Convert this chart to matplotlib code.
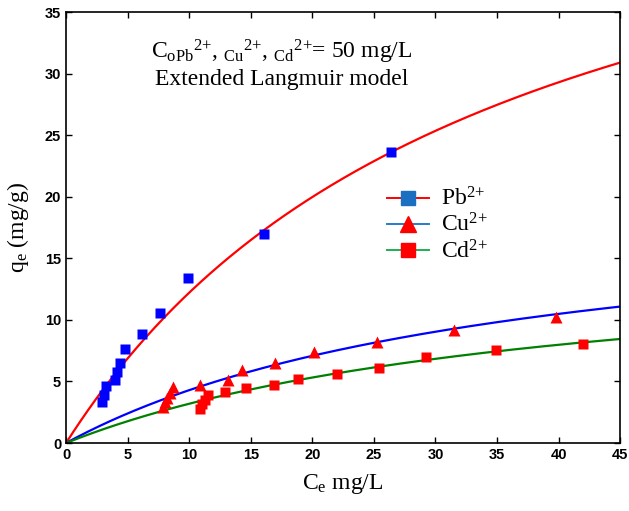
import matplotlib
matplotlib.use("Agg")
import matplotlib.pyplot as plt
from matplotlib.lines import Line2D
import numpy as np

plt.rcParams['mathtext.fontset'] = 'custom'
plt.rcParams['mathtext.rm'] = 'Liberation Serif'
plt.rcParams['mathtext.it'] = 'Liberation Serif'

pb_ce = [2.92, 3.05, 3.25, 3.98, 4.14, 4.39, 4.79, 6.17, 7.64, 9.91, 16.08, 26.4]
pb_qe = [3.33, 3.9, 4.63, 5.12, 5.77, 6.5, 7.64, 8.85, 10.56, 13.4, 16.98, 23.64]

cu_ce = [7.88, 8.04, 8.2, 8.45, 8.69, 10.89, 13.16, 14.3, 16.98, 20.15, 25.26, 31.52, 39.8]
cu_qe = [2.92, 3.33, 3.65, 4.06, 4.55, 4.71, 5.12, 5.93, 6.5, 7.39, 8.2, 9.18, 10.24]

cd_ce = [10.89, 11.05, 11.29, 11.54, 12.92, 14.62, 16.9, 18.85, 22.0, 25.4, 29.24, 34.93, 42.0]
cd_qe = [2.76, 3.17, 3.49, 3.9, 4.14, 4.47, 4.71, 5.2, 5.6, 6.09, 6.99, 7.55, 8.04]

# Langmuir parameters (qm, K) estimated from the drawn curves
pb_fit = (54.9, 0.0286)
cu_fit = (20.2, 0.0270)
cd_fit = (15.96, 0.025)

labels = ['Pb$^{2{+}}$', 'Cu$^{2{+}}$', 'Cd$^{2{+}}$']

fig = plt.figure(figsize=(6.29, 5.11), dpi=100)
ax = fig.add_axes([0.105, 0.133, 0.881, 0.8435])

c = np.linspace(0, 45, 300)
for (qm, k), col in [(pb_fit, '#ff0000'), (cu_fit, '#0000ff'), (cd_fit, '#008000')]:
    ax.plot(c, qm * k * c / (1 + k * c), color=col, lw=1.6, zorder=2)

ax.plot(pb_ce, pb_qe, 's', color='#0000ff', ms=7, mec='none', zorder=3)
ax.plot(cu_ce, cu_qe, '^', color='#ff0000', ms=8, mec='none', zorder=3)
ax.plot(cd_ce, cd_qe, 's', color='#ff0000', ms=7, mec='none', zorder=3)

ax.set_xlim(0, 45)
ax.set_ylim(0, 35)
ax.set_xticks(range(0, 46, 5))
ax.set_yticks(range(0, 36, 5))
ax.tick_params(direction='in', top=True, right=True, length=4, width=1)
for lab in ax.get_xticklabels() + ax.get_yticklabels():
    lab.set_fontfamily('Liberation Sans')
    lab.set_fontweight('bold')
    lab.set_fontsize(10.5)
for sp in ax.spines.values():
    sp.set_linewidth(1.2)

ax.set_xlabel('C$_\\mathrm{e}$ mg/L', fontsize=17, family='Liberation Serif', labelpad=7)
ax.set_ylabel('q$_\\mathrm{e}$ (mg/g)', fontsize=17, family='Liberation Serif', labelpad=10)

ax.text(17.5, 31.8, 'C$_\\mathrm{oPb}$$^{2{+}}$, $_\\mathrm{Cu}$$^{2{+}}$, '
        '$_\\mathrm{Cd}$$^{2{+}}$= 50 mg/L', ha='center', va='center',
        fontsize=17, family='Liberation Serif')
ax.text(17.5, 29.5, 'Extended Langmuir model', ha='center', va='center',
        fontsize=17, family='Liberation Serif')

handles = [
    Line2D([], [], color='#ff0000', marker='s', mfc='#1a6fc0', mec='#1a6fc0', ms=10, lw=1.4),
    Line2D([], [], color='#2a7ad0', marker='^', mfc='#ff0000', mec='#ff0000', ms=11, lw=1.4),
    Line2D([], [], color='#20b050', marker='s', mfc='#ff0000', mec='#ff0000', ms=10, lw=1.4),
]
leg = ax.legend(handles, labels, loc='center left', bbox_to_anchor=(0.54, 0.505),
                frameon=False, prop={'family': 'Liberation Serif', 'size': 17},
                handlelength=1.8, labelspacing=0.12, handletextpad=0.5)

fig.savefig('out.png', dpi=100)
